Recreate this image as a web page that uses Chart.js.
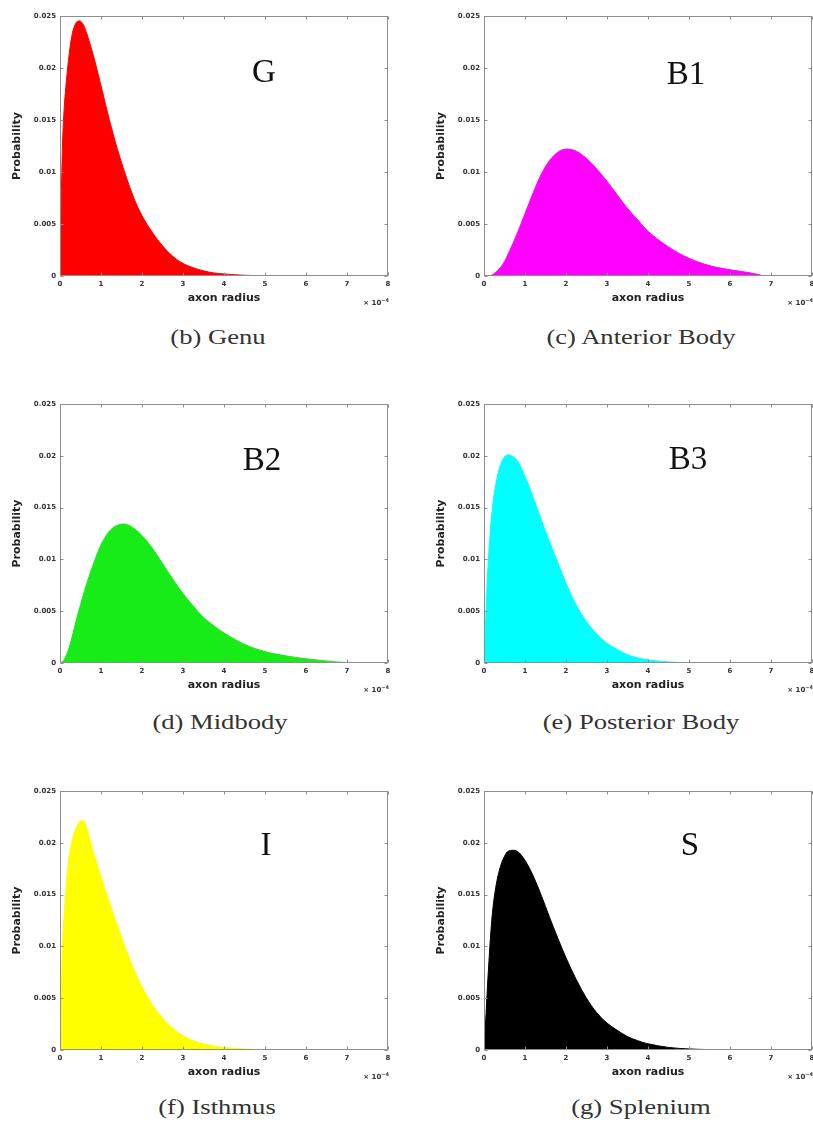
<!DOCTYPE html>
<html><head><meta charset="utf-8">
<script src="https://cdn.jsdelivr.net/npm/chart.js@4.4.1/dist/chart.umd.min.js"></script>
<style>
html,body{margin:0;padding:0;background:#fff;}
body{width:813px;height:1122px;position:relative;overflow:hidden;}
canvas{position:absolute;}
.cap{position:absolute;font-family:"Liberation Serif","Times New Roman",serif;font-size:20px;color:#333;line-height:1;white-space:nowrap;transform:translate(-50%,-50%) scaleX(1.33);}
.lbl{position:absolute;font-family:"Liberation Serif","Times New Roman",serif;font-size:33px;color:#111;line-height:1;white-space:nowrap;transform:translate(-50%,-50%);}
.exp{position:absolute;font-family:"DejaVu Sans",sans-serif;font-size:7px;font-weight:bold;color:#333;line-height:1;white-space:nowrap;transform:translate(-100%,-50%);}
.exp sup{font-size:5px;vertical-align:3px;}
</style></head><body>
<script>
// axon radius grid (units of 1e-4)
const xValues = [0,0.05,0.1,0.2,0.3,0.4,0.5,0.6,0.8,1.0,1.2,1.4,1.6,1.8,2.0,2.25,2.5,2.75,3.0,3.25,3.5,3.75,4.0,4.5,5.0,5.5,6.0,6.5,6.75,7.0,7.5,8.0];
const xTickLabels = ['0','1','2','3','4','5','6','7','8'];
const yTickLabels = ['0','0.005','0.01','0.015','0.02','0.025'];

const genuG = [0,0.011,0.016,0.0205,0.0233,0.0244,0.0245,0.0239,0.0214,0.0183,0.0151,0.0122,0.0097,0.0075,0.0058,0.0042,0.0029,0.0019,0.0012,0.0008,0.0005,0.0003,0.0002,0.00007,0.00002,0,null,null,null,null,null,null];
const anteriorB1 = [0,0,0,0.0001,0.0004,0.0008,0.0014,0.0022,0.0040,0.0060,0.0080,0.0098,0.0111,0.0119,0.0122,0.0120,0.0113,0.0103,0.0091,0.0078,0.0065,0.0054,0.0043,0.0028,0.0017,0.0010,0.0006,0.0003,0.0001,null,null,null];
const midbodyB2 = [0,0.0001,0.0003,0.0012,0.0026,0.0042,0.0056,0.0070,0.0094,0.0114,0.0127,0.0133,0.0134,0.0130,0.0123,0.0111,0.0096,0.0081,0.0067,0.0055,0.0044,0.0036,0.0029,0.0018,0.0011,0.0007,0.0004,0.0002,0.0001,0.00005,null,null];
const posteriorB3 = [0,0.005,0.0095,0.0148,0.0175,0.0191,0.0199,0.0201,0.0196,0.0180,0.0160,0.0138,0.0117,0.0097,0.0077,0.0056,0.0040,0.0028,0.0019,0.0013,0.0008,0.0005,0.0003,0.0001,0.00003,null,null,null,null,null,null,null];
const isthmusI = [0,0.009,0.0130,0.0180,0.0203,0.0215,0.0221,0.0220,0.0193,0.0167,0.0143,0.0120,0.0098,0.0078,0.0061,0.0044,0.0031,0.0021,0.0014,0.0009,0.0006,0.0004,0.00025,0.0001,0.00003,null,null,null,null,null,null,null];
const spleniumS = [0,0.0035,0.0072,0.0130,0.0160,0.0177,0.0187,0.0192,0.0192,0.0183,0.0168,0.0149,0.0128,0.0108,0.0089,0.0068,0.0050,0.0036,0.0026,0.0019,0.0013,0.0009,0.0006,0.00025,0.0001,0.00004,0.00001,null,null,null,null,null];

const panelLetters = ['G','B1','B2','B3','I','S'];
const panelCaptions = ['(b) Genu','(c) Anterior Body','(d) Midbody','(e) Posterior Body','(f) Isthmus','(g) Splenium'];
const panelSeries = [genuG, anteriorB1, midbodyB2, posteriorB3, isthmusI, spleniumS];
const panelColors = ['#ff0000','#ff00ff','#18ec18','#00ffff','#ffff00','#000000'];

// layout (pixels)
const layout = [
  {cx:0,   top:16,  bottom:276,  lx:264, ly:71,  capx:218, capy:337},
  {cx:424, top:16,  bottom:276,  lx:686, ly:73,  capx:641, capy:337},
  {cx:0,   top:404, bottom:663,  lx:262, ly:459, capx:220, capy:722},
  {cx:424, top:404, bottom:663,  lx:688, ly:458, capx:641, capy:722},
  {cx:0,   top:791, bottom:1050, lx:266, ly:844, capx:217, capy:1107},
  {cx:424, top:791, bottom:1050, lx:690, ly:844, capx:641, capy:1107}
];

const framePlugin = {
  id:'frame',
  afterDatasetsDraw(chart){
    const {ctx, chartArea:a, scales:{x,y}} = chart;
    ctx.save();
    ctx.strokeStyle = '#8e8e8e'; ctx.lineWidth = 1;
    const L = Math.round(a.left)+0.5, T = Math.round(a.top)+0.5, R = Math.round(a.right)-0.5, B = Math.round(a.bottom)-0.5;
    ctx.strokeRect(L, T, R-L, B-T);
    ctx.beginPath();
    x.ticks.forEach(t=>{const p=Math.round(x.getPixelForValue(t.value))+0.5; ctx.moveTo(p,B); ctx.lineTo(p,B-3); ctx.moveTo(p,T); ctx.lineTo(p,T+3);});
    y.ticks.forEach(t=>{const p=Math.round(y.getPixelForValue(t.value))+0.5; ctx.moveTo(L,p); ctx.lineTo(L+3,p); ctx.moveTo(R,p); ctx.lineTo(R-3,p);});
    ctx.stroke();
    ctx.restore();
  }
};

const tickFont = {family:'DejaVu Sans', size:7, weight:'bold'};
const titleFont = {family:'DejaVu Sans', size:11, weight:'bold'};

layout.forEach((p,k)=>{
  const cv = document.createElement('canvas');
  const W = 410, H = (p.bottom - p.top) + 52;
  cv.width = W; cv.height = H;
  cv.style.left = p.cx + 'px'; cv.style.top = (p.top - 12) + 'px';
  cv.style.width = W + 'px'; cv.style.height = H + 'px';
  document.body.appendChild(cv);
  const series = panelSeries[k];
  new Chart(cv, {
    type:'line',
    data:{datasets:[{
      data: xValues.map((x,i)=>({x:x, y:series[i]})),
      fill:'origin', backgroundColor:panelColors[k], borderColor:panelColors[k],
      borderWidth:1, pointRadius:0, tension:0.35, spanGaps:false
    }]},
    options:{
      responsive:false, animation:false, devicePixelRatio:1,
      layout:{padding:{top:12, right:22, left:0, bottom:0}},
      plugins:{legend:{display:false}, tooltip:{enabled:false}, title:{display:false}},
      scales:{
        x:{type:'linear', min:0, max:8,
          ticks:{stepSize:1, padding:4, font:tickFont, color:'#333', maxRotation:0, autoSkip:false,
                 callback:(v,i)=>xTickLabels[i]},
          grid:{display:false, drawTicks:false}, border:{display:false},
          title:{display:true, text:'axon radius', font:titleFont, color:'#222', padding:{top:0,bottom:11}},
          afterFit:s=>{s.height = 40;}},
        y:{type:'linear', min:0, max:0.025,
          ticks:{stepSize:0.005, padding:4, font:tickFont, color:'#333',
                 callback:(v,i)=>yTickLabels[i]},
          grid:{display:false, drawTicks:false}, border:{display:false},
          title:{display:true, text:'Probability', font:titleFont, color:'#222', padding:{top:11,bottom:0}},
          afterFit:s=>{s.width = 60;}}
      }
    },
    plugins:[framePlugin]
  });

  const lbl = document.createElement('div');
  lbl.className = 'lbl'; lbl.textContent = panelLetters[k];
  lbl.style.left = p.lx + 'px'; lbl.style.top = p.ly + 'px';
  document.body.appendChild(lbl);

  const cap = document.createElement('div');
  cap.className = 'cap'; cap.textContent = panelCaptions[k];
  cap.style.left = p.capx + 'px'; cap.style.top = p.capy + 'px';
  document.body.appendChild(cap);

  const ex = document.createElement('div');
  ex.className = 'exp'; ex.innerHTML = '× 10<sup>−4</sup>';
  ex.style.left = (p.cx + 389) + 'px'; ex.style.top = (p.bottom + 26) + 'px';
  document.body.appendChild(ex);
});
</script>
</body></html>
